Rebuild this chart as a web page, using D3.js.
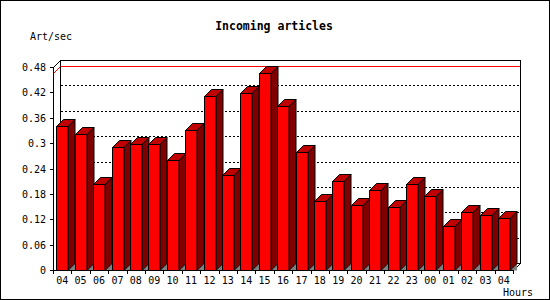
<!DOCTYPE html>
<html>
<head>
<meta charset="utf-8">
<script src="https://cdn.jsdelivr.net/npm/d3@7"></script>
<style>
  body { margin: 0; background: #fff; }
  text { font-family: "DejaVu Sans Mono", monospace; }
</style>
</head>
<body>
<script>
// hours shown on the x axis
const hours = ["04", "05", "06", "07", "08", "09", "10", "11", "12", "13", "14", "15", "16",
  "17", "18", "19", "20", "21", "22", "23", "00", "01", "02", "03", "04"];
// incoming articles per second
const rates = [0.340, 0.322, 0.204, 0.292, 0.297, 0.297, 0.261, 0.330, 0.411, 0.224, 0.419, 0.465, 0.387,
  0.279, 0.163, 0.211, 0.153, 0.190, 0.148, 0.204, 0.174, 0.105, 0.136, 0.131, 0.124];
const yTicks = [0, 0.06, 0.12, 0.18, 0.24, 0.3, 0.36, 0.42, 0.48];

const w = 550, h = 300;
const pLeft = 53, pRight = 513, pTop = 67, pBottom = 270;
const depth = 7;

const svg = d3.select("body").append("svg")
  .attr("width", w)
  .attr("height", h);

// outer frame
svg.append("rect")
  .attr("x", 0.5).attr("y", 0.5)
  .attr("width", w - 1).attr("height", h - 1)
  .attr("fill", "white").attr("stroke", "black");

const x = d3.scaleBand()
  .domain(d3.range(hours.length))
  .range([pLeft, pRight]);

const y = d3.scaleLinear()
  .domain([0, 0.48])
  .range([pBottom, pTop]);

// back plane
svg.append("rect")
  .attr("x", pLeft + depth + 0.5).attr("y", pTop - depth + 0.5)
  .attr("width", pRight - pLeft).attr("height", pBottom - pTop)
  .attr("fill", "white").attr("stroke", "black");

// dotted grid on the back plane
svg.selectAll("line.grid")
  .data(yTicks.filter(d => d > 0 && d < 0.48))
  .enter()
  .append("line")
  .attr("class", "grid")
  .attr("x1", pLeft + depth + 1)
  .attr("x2", pRight + depth)
  .attr("y1", d => Math.round(y(d)) - depth + 0.5)
  .attr("y2", d => Math.round(y(d)) - depth + 0.5)
  .attr("stroke", "black")
  .attr("stroke-dasharray", "2,2");

// max line
const maxRate = d3.max(rates);
svg.append("line")
  .attr("x1", pLeft + depth + 1).attr("x2", pRight + depth)
  .attr("y1", Math.round(y(maxRate)) - depth + 0.5)
  .attr("y2", Math.round(y(maxRate)) - depth + 0.5)
  .attr("stroke", "red");
svg.append("line")
  .attr("x1", pLeft + 0.5).attr("x2", pLeft + depth + 0.5)
  .attr("y1", Math.round(y(maxRate)) + 0.5)
  .attr("y2", Math.round(y(maxRate)) - depth + 0.5)
  .attr("stroke", "red");

// floor edges
svg.append("line")
  .attr("x1", pLeft + depth).attr("x2", pRight + depth)
  .attr("y1", pBottom - depth + 0.5).attr("y2", pBottom - depth + 0.5)
  .attr("stroke", "black");
svg.append("line")
  .attr("x1", pRight + depth + 0.5).attr("y1", pBottom - depth + 0.5)
  .attr("x2", pRight + 0.5).attr("y2", pBottom + 0.5)
  .attr("stroke", "black");
svg.append("line")
  .attr("x1", pLeft + 0.5).attr("y1", pTop + 0.5)
  .attr("x2", pLeft + depth + 0.5).attr("y2", pTop - depth + 0.5)
  .attr("stroke", "black");

// 3d bars
const bw = 11.5;
const bars = svg.selectAll("g.bar")
  .data(rates)
  .enter()
  .append("g")
  .attr("class", "bar")
  .attr("stroke", "black")
  .attr("stroke-linejoin", "miter");

const bx = (d, i) => Math.round(x(i) + (x.bandwidth() - bw) / 2) + 0.5;
const by = d => Math.round(y(d)) + 0.5;
const b0 = pBottom + 0.5;

bars.append("polygon")
  .attr("fill", "#808080")
  .attr("stroke", "none")
  .attr("points", (d, i) => {
    const x1 = bx(d, i) + bw;
    return [[x1, b0], [x1 + depth, b0 - depth], [x1 + depth, b0]].join(" ");
  });
bars.append("polygon")
  .attr("fill", "#800000")
  .attr("points", (d, i) => {
    const x1 = bx(d, i) + bw, t = by(d);
    return [[x1, t], [x1 + depth, t - depth], [x1 + depth, b0 - depth], [x1, b0]].join(" ");
  });
bars.append("polygon")
  .attr("fill", "#c00000")
  .attr("points", (d, i) => {
    const x0 = bx(d, i), t = by(d);
    return [[x0, t], [x0 + depth, t - depth], [x0 + bw + depth, t - depth], [x0 + bw, t]].join(" ");
  });
bars.append("rect")
  .attr("fill", "#ff0000")
  .attr("x", bx)
  .attr("y", by)
  .attr("width", bw)
  .attr("height", d => b0 - by(d));

// y axis
svg.append("line")
  .attr("x1", pLeft + 0.5).attr("x2", pLeft + 0.5)
  .attr("y1", pTop).attr("y2", pBottom + 1)
  .attr("stroke", "black");
svg.selectAll("line.ytick")
  .data(yTicks)
  .enter()
  .append("line")
  .attr("class", "ytick")
  .attr("x1", pLeft - 3).attr("x2", pLeft)
  .attr("y1", d => Math.round(y(d)) + 0.5)
  .attr("y2", d => Math.round(y(d)) + 0.5)
  .attr("stroke", "black");
svg.selectAll("text.ylab")
  .data(yTicks)
  .enter()
  .append("text")
  .attr("class", "ylab")
  .attr("x", 46)
  .attr("y", d => y(d) + 4)
  .attr("text-anchor", "end")
  .style("font-size", "10px")
  .text(d => d);

// x axis
svg.append("line")
  .attr("x1", pLeft).attr("x2", pRight + 1)
  .attr("y1", pBottom + 0.5).attr("y2", pBottom + 0.5)
  .attr("stroke", "black");
svg.selectAll("line.xtick")
  .data(d3.range(hours.length + 1))
  .enter()
  .append("line")
  .attr("class", "xtick")
  .attr("x1", i => Math.round(pLeft + i * x.step()) + 0.5)
  .attr("x2", i => Math.round(pLeft + i * x.step()) + 0.5)
  .attr("y1", pBottom).attr("y2", pBottom + 4)
  .attr("stroke", "black");
svg.selectAll("text.xlab")
  .data(hours)
  .enter()
  .append("text")
  .attr("class", "xlab")
  .attr("x", (d, i) => x(i) + x.bandwidth() / 2)
  .attr("y", 284)
  .attr("text-anchor", "middle")
  .style("font-size", "10px")
  .text(d => d);

// titles
svg.append("text")
  .attr("x", 274).attr("y", 30)
  .attr("text-anchor", "middle")
  .style("font-size", "11.5px")
  .style("font-weight", "bold")
  .text("Incoming articles");
svg.append("text")
  .attr("x", 30).attr("y", 40)
  .style("font-size", "10px")
  .text("Art/sec");
svg.append("text")
  .attr("x", 533).attr("y", 296)
  .attr("text-anchor", "end")
  .style("font-size", "10px")
  .text("Hours");
</script>
</body>
</html>
